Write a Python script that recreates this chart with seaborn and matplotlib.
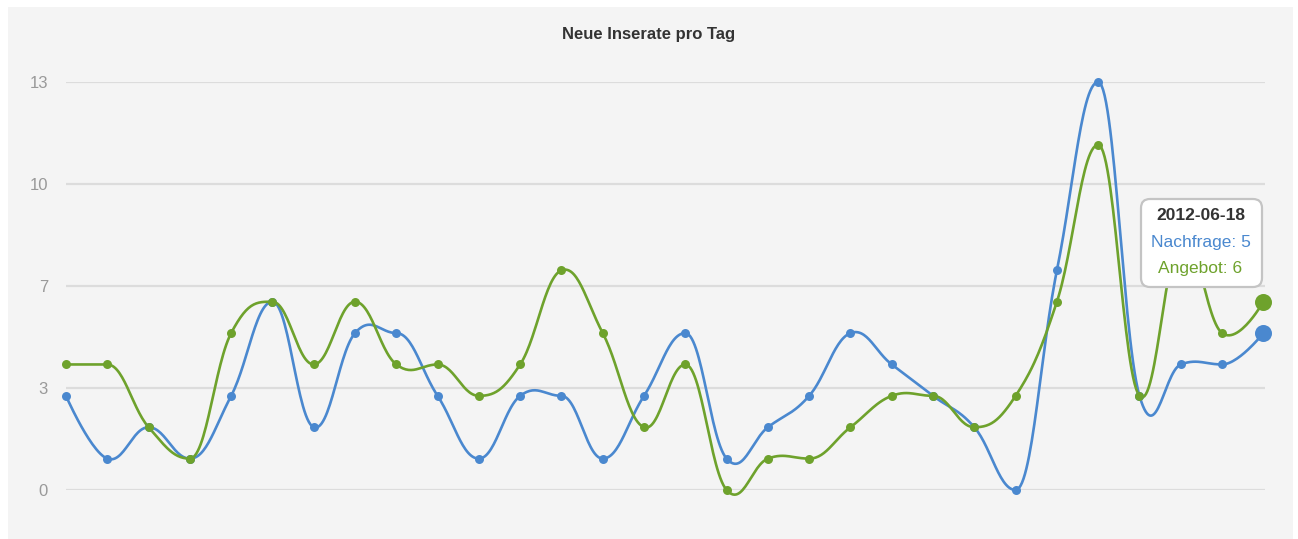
import numpy as np
import pandas as pd
import seaborn as sns
import matplotlib.pyplot as plt
from matplotlib.patches import Rectangle, FancyBboxPatch

# daily counts, 2012-05-20 .. 2012-06-18
dates = pd.date_range('2012-05-20', '2012-06-18').strftime('%Y-%m-%d').tolist()
nachfrage = [3, 1, 2, 1, 3, 6, 2, 5, 5, 3, 1, 3, 3, 1, 3, 5, 1, 2, 3, 5,
             4, 3, 2, 0, 7, 13, 3, 4, 4, 5]
angebot = [4, 4, 2, 1, 5, 6, 4, 6, 4, 4, 3, 4, 7, 5, 2, 4, 0, 1, 1, 2,
           3, 3, 2, 3, 6, 11, 3, 8, 5, 6]
ytick_vals = [0, 3.25, 6.5, 9.75, 13]
ytick_labels = ['0', '3', '7', '10', '13']

BLUE = '#4a88cf'
GREEN = '#6ea22c'
BG = '#f4f4f4'


def spline(xs, ys, steps=30):
    # highcharts-like spline (smoothing 1.5, left control point clamped)
    xs = np.asarray(xs, float)
    ys = np.asarray(ys, float)
    n = len(xs)
    lc = [(x, y) for x, y in zip(xs, ys)]
    rc = [(x, y) for x, y in zip(xs, ys)]
    s, d = 1.5, 2.5
    for i in range(1, n - 1):
        lx = (s * xs[i] + xs[i - 1]) / d
        ly = (s * ys[i] + ys[i - 1]) / d
        rx = (s * xs[i] + xs[i + 1]) / d
        ry = (s * ys[i] + ys[i + 1]) / d
        corr = (ry - ly) * (rx - xs[i]) / (rx - lx) + ys[i] - ry
        ly += corr
        ry += corr
        if ly > ys[i - 1] and ly > ys[i]:
            ly = max(ys[i - 1], ys[i])
            ry = 2 * ys[i] - ly
        elif ly < ys[i - 1] and ly < ys[i]:
            ly = min(ys[i - 1], ys[i])
            ry = 2 * ys[i] - ly
        lc[i] = (lx, ly)
        rc[i] = (rx, ry)
    t = np.linspace(0, 1, steps)[:, None]
    pts = []
    for i in range(1, n):
        p0 = np.array([xs[i - 1], ys[i - 1]])
        p1 = np.array(rc[i - 1])
        p2 = np.array(lc[i])
        p3 = np.array([xs[i], ys[i]])
        seg = ((1 - t) ** 3) * p0 + 3 * ((1 - t) ** 2) * t * p1 \
            + 3 * (1 - t) * t ** 2 * p2 + t ** 3 * p3
        pts.append(seg if i == 1 else seg[1:])
    pts = np.vstack(pts)
    return pts[:, 0], pts[:, 1]


sns.set_style('white')
plt.rcParams['font.family'] = ['Liberation Sans', 'DejaVu Sans']

fig = plt.figure(figsize=(12.98, 5.39), dpi=100, facecolor='white')
fig.add_artist(Rectangle((8, 0), 1285, 532, transform=None, facecolor=BG,
                         edgecolor='none', zorder=-10))
ax = fig.add_axes([66 / 1298, 49 / 539, 1199 / 1298, 408 / 539])
ax.set_facecolor('none')

x = np.arange(len(dates))
for vals, col in [(nachfrage, BLUE), (angebot, GREEN)]:
    sx, sy = spline(x, vals)
    sns.lineplot(x=sx, y=sy, sort=False, estimator=None, color=col,
                 linewidth=1.9, ax=ax, zorder=3, clip_on=False)
    sns.scatterplot(x=x[:-1], y=vals[:-1], color=col, s=42, linewidth=0,
                    ax=ax, zorder=4, clip_on=False)
    sns.scatterplot(x=x[-1:], y=vals[-1:], color=col, s=150, linewidth=0,
                    ax=ax, zorder=5, clip_on=False)

ax.set_xlim(0, len(dates) - 1 + 0.04)
ax.set_ylim(0, 13)
ax.set_yticks(ytick_vals)
ax.set_yticklabels(ytick_labels)
ax.set_xticks([])
ax.tick_params(axis='y', length=0, pad=13, labelsize=12, labelcolor='#999999')
ax.grid(axis='y', color='#dcdcdc', linewidth=1.6)
ax.set_axisbelow(True)
for sp in ax.spines.values():
    sp.set_visible(False)

fig.text(0.5, (539 - 34) / 539, 'Neue Inserate pro Tag', ha='center',
         va='center', fontsize=12, fontweight='bold', color='#333333')

# tooltip on the last day
tr = fig.dpi_scale_trans
tip = FancyBboxPatch((11.44, 2.55), 1.15, 0.82,
                     boxstyle='round,pad=0.03,rounding_size=0.09',
                     transform=tr, facecolor='white',
                     edgecolor='#c4c4c4', linewidth=1.6, zorder=10,
                     clip_on=False)
ax.add_artist(tip)
tx = 12.005
ax.text(tx, 3.23, dates[-1], transform=tr, ha='center', va='center',
        fontsize=12.5, fontweight='bold', color='#333333', zorder=11,
        clip_on=False)
ax.text(tx, 2.97, 'Nachfrage: %d' % nachfrage[-1], transform=tr,
        ha='center', va='center', fontsize=12.5, color=BLUE, zorder=11,
        clip_on=False)
ax.text(tx, 2.71, 'Angebot: %d' % angebot[-1], transform=tr,
        ha='center', va='center', fontsize=12.5, color=GREEN, zorder=11,
        clip_on=False)

fig.savefig('out.png', dpi=100, facecolor='white')
